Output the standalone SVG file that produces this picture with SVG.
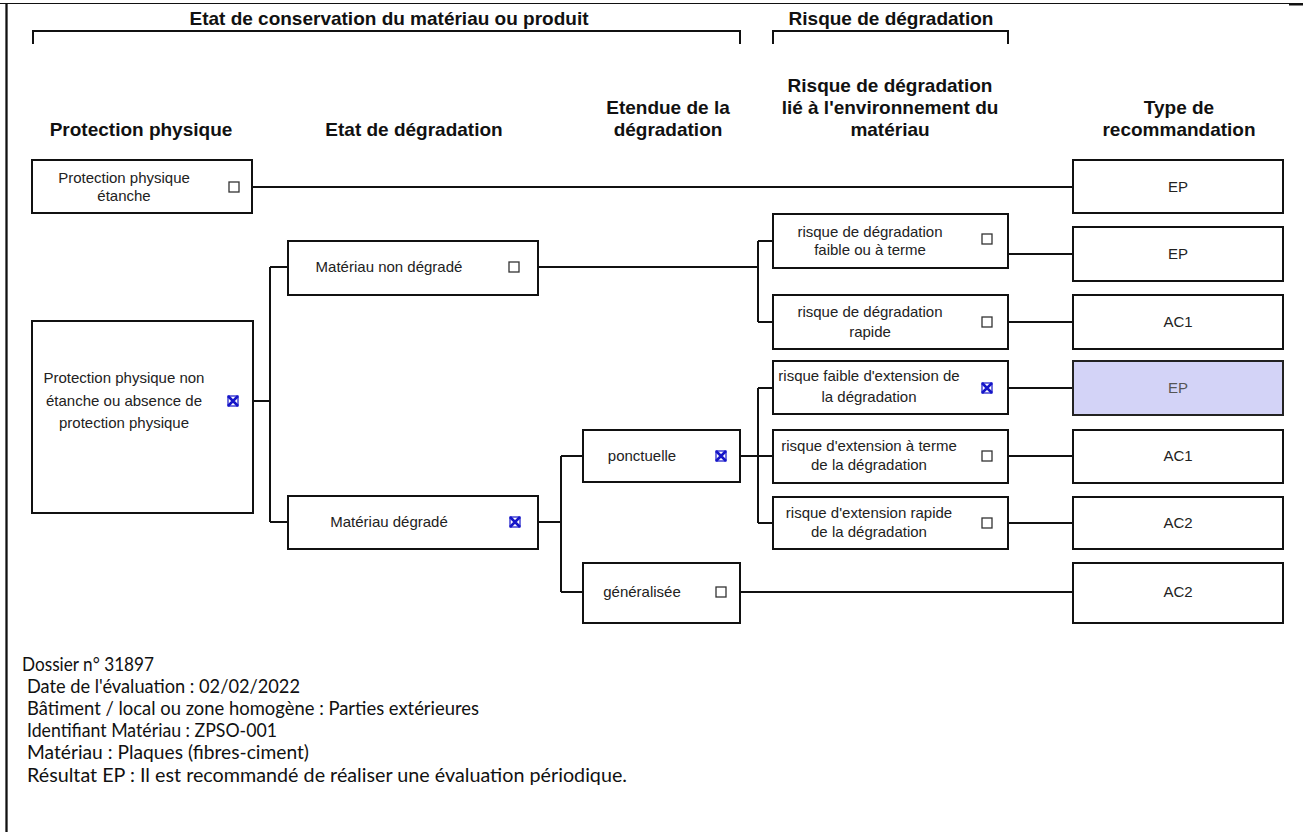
<svg xmlns="http://www.w3.org/2000/svg" width="1303" height="832" viewBox="0 0 1303 832">
<style>
.hd{font-family:"Liberation Sans",Arial,sans-serif;font-weight:bold;font-size:19px;fill:#111;text-anchor:middle}
.tx{font-family:"Liberation Sans",Arial,sans-serif;font-size:15px;fill:#222;text-anchor:middle}
.bx{fill:#fff;stroke:#111;stroke-width:2}
.hl{fill:#d3d3f7;stroke:#222;stroke-width:2}
.ln{fill:none;stroke:#111;stroke-width:2}
.cb{fill:#fff;stroke:#333;stroke-width:1.3}
.xm{fill:none;stroke:#1515c8;stroke-width:2.6}
.xs{fill:none;stroke:#1515c8;stroke-width:1.2}
.ft{font-family:Lato,"Liberation Sans",sans-serif;font-size:18.5px;fill:#111}
</style>
<defs>
<g id="chk"><rect class="cb" x="-5" y="-5" width="10" height="10"/></g>
<g id="xck"><rect class="xs" x="-5" y="-5" width="10" height="10"/><path class="xm" d="M-5,-5 L5,5 M5,-5 L-5,5"/></g>
</defs>
<rect width="1303" height="832" fill="#fff"/>
<g id="frame">
<line x1="0" y1="3.5" x2="1303" y2="3.5" stroke="#111" stroke-width="1.2"/>
<rect x="1289" y="3" width="14" height="2.5" fill="#111"/>
<line x1="6.5" y1="3" x2="6.5" y2="832" stroke="#111" stroke-width="2.3"/>
</g>
<g id="headers">
<text class="hd" x="389" y="25">Etat de conservation du matériau ou produit</text>
<path class="ln" d="M33,44 V31 H740 V44"/>
<text class="hd" x="891" y="25">Risque de dégradation</text>
<path class="ln" d="M773,44 V31 H1008 V44"/>
<text class="hd" x="141" y="136">Protection physique</text>
<text class="hd" x="414" y="136">Etat de dégradation</text>
<text class="hd" x="668" y="114">Etendue de la</text>
<text class="hd" x="668" y="136">dégradation</text>
<text class="hd" x="890" y="92">Risque de dégradation</text>
<text class="hd" x="890" y="114">lié à l'environnement du</text>
<text class="hd" x="890" y="136">matériau</text>
<text class="hd" x="1179" y="114">Type de</text>
<text class="hd" x="1179" y="136">recommandation</text>
</g>
<g id="connectors">
<path class="ln" d="M252,187 H1073"/>
<path class="ln" d="M253,401 H270 M270,267 V522 M270,267 H288 M270,522 H288"/>
<path class="ln" d="M538,267 H758 M758,241 V322 M758,241 H773 M758,322 H773"/>
<path class="ln" d="M538,522 H561 M561,456 V592 M561,456 H583 M561,592 H583"/>
<path class="ln" d="M740,456 H773 M758,388 V523 M758,388 H773 M758,523 H773"/>
<path class="ln" d="M1008,254 H1073 M1008,322 H1073 M1008,388 H1073 M1008,456 H1073 M1008,523 H1073 M740,592 H1073"/>
</g>
<g id="n-etanche">
<rect class="bx" x="32" y="160" width="220" height="53"/>
<text class="tx" x="124" y="183">Protection physique</text>
<text class="tx" x="124" y="201">étanche</text>
<use href="#chk" x="234" y="187"/>
</g>
<g id="n-non-etanche">
<rect class="bx" x="32" y="321" width="221" height="192"/>
<text class="tx" x="124" y="383">Protection physique non</text>
<text class="tx" x="124" y="406">étanche ou absence de</text>
<text class="tx" x="124" y="428">protection physique</text>
<use href="#xck" x="233" y="401"/>
</g>
<g id="n-non-degrade">
<rect class="bx" x="288" y="241" width="250" height="54"/>
<text class="tx" x="389" y="272">Matériau non dégradé</text>
<use href="#chk" x="514" y="267"/>
</g>
<g id="n-degrade">
<rect class="bx" x="288" y="496" width="250" height="53"/>
<text class="tx" x="389" y="527">Matériau dégradé</text>
<use href="#xck" x="515" y="522"/>
</g>
<g id="n-ponctuelle">
<rect class="bx" x="583" y="430" width="157" height="52"/>
<text class="tx" x="642" y="461">ponctuelle</text>
<use href="#xck" x="721" y="456"/>
</g>
<g id="n-generalisee">
<rect class="bx" x="583" y="563" width="157" height="60"/>
<text class="tx" x="642" y="597">généralisée</text>
<use href="#chk" x="721" y="592"/>
</g>
<g id="r1">
<rect class="bx" x="773" y="214" width="235" height="54"/>
<text class="tx" x="870" y="237">risque de dégradation</text>
<text class="tx" x="870" y="255">faible ou à terme</text>
<use href="#chk" x="987" y="239"/>
</g>
<g id="r2">
<rect class="bx" x="773" y="295" width="235" height="54"/>
<text class="tx" x="870" y="317">risque de dégradation</text>
<text class="tx" x="870" y="337">rapide</text>
<use href="#chk" x="987" y="322"/>
</g>
<g id="r3">
<rect class="bx" x="773" y="361" width="235" height="53"/>
<text class="tx" x="869" y="381">risque faible d'extension de</text>
<text class="tx" x="869" y="402">la dégradation</text>
<use href="#xck" x="987" y="388"/>
</g>
<g id="r4">
<rect class="bx" x="773" y="430" width="235" height="53"/>
<text class="tx" x="869" y="451">risque d'extension à terme</text>
<text class="tx" x="869" y="470">de la dégradation</text>
<use href="#chk" x="987" y="456"/>
</g>
<g id="r5">
<rect class="bx" x="773" y="497" width="235" height="52"/>
<text class="tx" x="869" y="518">risque d'extension rapide</text>
<text class="tx" x="869" y="537">de la dégradation</text>
<use href="#chk" x="987" y="523"/>
</g>
<g id="t1"><rect class="bx" x="1073" y="160" width="210" height="53"/><text class="tx" x="1178" y="192">EP</text></g>
<g id="t2"><rect class="bx" x="1073" y="227" width="210" height="54"/><text class="tx" x="1178" y="259">EP</text></g>
<g id="t3"><rect class="bx" x="1073" y="295" width="210" height="54"/><text class="tx" x="1178" y="327">AC1</text></g>
<g id="t4"><rect class="hl" x="1073" y="361" width="210" height="54"/><text class="tx" x="1178" y="393" style="fill:#555">EP</text></g>
<g id="t5"><rect class="bx" x="1073" y="430" width="210" height="53"/><text class="tx" x="1178" y="461">AC1</text></g>
<g id="t6"><rect class="bx" x="1073" y="497" width="210" height="52"/><text class="tx" x="1178" y="528">AC2</text></g>
<g id="t7"><rect class="bx" x="1073" y="563" width="210" height="60"/><text class="tx" x="1178" y="597">AC2</text></g>
<g id="footer">
<text class="ft" x="22" y="671" textLength="132" lengthAdjust="spacingAndGlyphs">Dossier n° 31897</text>
<text class="ft" x="27" y="693" textLength="273" lengthAdjust="spacingAndGlyphs">Date de l'évaluation : 02/02/2022</text>
<text class="ft" x="27" y="715" textLength="452" lengthAdjust="spacingAndGlyphs">Bâtiment / local ou zone homogène : Parties extérieures</text>
<text class="ft" x="27" y="737" textLength="250" lengthAdjust="spacingAndGlyphs">Identifiant Matériau : ZPSO-001</text>
<text class="ft" x="27" y="759" textLength="282" lengthAdjust="spacingAndGlyphs">Matériau : Plaques (fibres-ciment)</text>
<text class="ft" x="27" y="782" textLength="600" lengthAdjust="spacingAndGlyphs">Résultat EP : Il est recommandé de réaliser une évaluation périodique.</text>
</g>
</svg>
